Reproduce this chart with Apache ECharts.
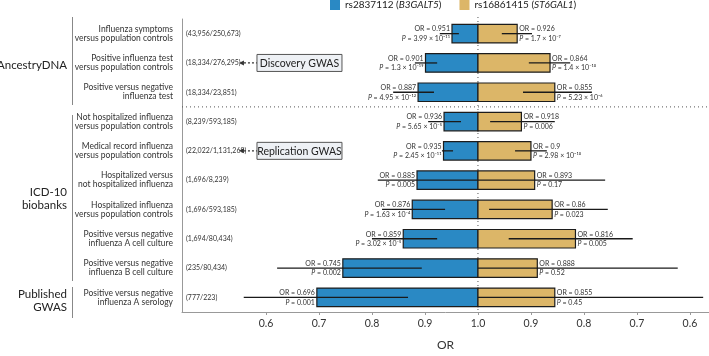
<!DOCTYPE html>
<html>
<head>
<meta charset="utf-8">
<script src="https://cdn.jsdelivr.net/npm/echarts@6/dist/echarts.min.js"></script>
<style>
html, body { margin: 0; padding: 0; background: #fff; }
#chart { width: 709px; height: 356px; }
</style>
</head>
<body>
<div id="chart"></div>
<script>
// rows, top to bottom
const rowLabels = [
    'Influenza symptoms\nversus population controls',
    'Positive influenza test\nversus population controls',
    'Positive versus negative\ninfluenza test',
    'Not hospitalized influenza\nversus population controls',
    'Medical record influenza\nversus population controls',
    'Hospitalized versus\nnot hospitalized influenza',
    'Hospitalized influenza\nversus population controls',
    'Positive versus negative\ninfluenza A cell culture',
    'Positive versus negative\ninfluenza B cell culture',
    'Positive versus negative\ninfluenza A serology'
]
const sampleSizes = ['(43,956/250,673)', '(18,334/276,295)', '(18,334/23,851)', '(8,239/593,185)',
    '(22,022/1,131,269)', '(1,696/8,239)', '(1,696/593,185)', '(1,694/80,434)', '(235/80,434)', '(777/223)']

// rs2837112 (B3GALT5)
const orLeft = [0.951, 0.901, 0.887, 0.936, 0.935, 0.885, 0.876, 0.859, 0.745, 0.696]
const ciLeftLow = [0.928, 0.881, 0.840, 0.906, 0.932, 0.811, 0.819, 0.800, 0.621, 0.558]
const ciLeftHigh = [0.964, 0.923, 0.917, 0.968, 0.953, 1.0, 0.938, 0.923, 0.894, 0.868]
const pLeft = ['3.99 × 10⁻¹¹', '1.3 × 10⁻¹⁹', '4.95 × 10⁻¹²', '5.65 × 10⁻⁵', '2.45 × 10⁻¹¹',
    '0.005', '1.63 × 10⁻⁴', '3.02 × 10⁻⁵', '0.002', '0.001']

// rs16861415 (ST6GAL1)
const orRight = [0.926, 0.864, 0.855, 0.918, 0.9, 0.893, 0.86, 0.816, 0.888, 0.855]
const ciRightLow = [0.898, 0.826, 0.785, 0.855, 0.870, 0.760, 0.755, 0.708, 0.623, 0.575]
const ciRightHigh = [0.955, 0.904, 0.915, 0.977, 0.930, 1.0, 0.979, 0.942, 1.0, 1.0]
const pRight = ['1.7 × 10⁻⁷', '1.4 × 10⁻¹⁰', '5.23 × 10⁻⁶', '0.006', '2.98 × 10⁻¹⁰',
    '0.17', '0.023', '0.005', '0.52', '0.45']

const xTickLabels = ['0.6', '0.7', '0.8', '0.9', '1.0', '0.9', '0.8', '0.7', '0.6']
const groupNames = ['AncestryDNA', 'ICD-10\nbiobanks', 'Published\nGWAS']
const annotRows = [1, 4]
const annotTexts = ['Discovery GWAS', 'Replication GWAS']
const dividerAfter = 2

const nameLeft = 'rs2837112 (B3GALT5)'
const nameRight = 'rs16861415 (ST6GAL1)'
const FONT = 'Lato, "Noto Sans", sans-serif'
const blue = '#2a89c4'
const gold = '#dcb668'
const ink = '#333'

// right half of the axis is mirrored: position = 2 - OR
const tickVals = xTickLabels.map((t, k) => k <= 4 ? +t : 2 - t)

function sideSeries(name, color, side, or, lo, hi, pv) {
    const pos = v => side < 0 ? v : 2 - v
    return {
        name: name,
        type: 'custom',
        z: 3,
        itemStyle: { color: color },
        encode: { x: 1, y: 0 },
        data: or.map((v, i) => [i, pos(v), pos(lo[i]), pos(hi[i])]),
        renderItem: function (params, api) {
            const i = params.dataIndex
            const base = api.coord([1, i])
            const end = api.coord([api.value(1), i])
            const a = api.coord([api.value(2), i])
            const b = api.coord([api.value(3), i])
            const h = api.size([0, 1])[1] * 0.63
            const y = base[1]
            const tx = end[0] + (side < 0 ? -2 : 2)
            const align = side < 0 ? 'right' : 'left'
            return {
                type: 'group',
                children: [
                    {
                        type: 'rect',
                        shape: { x: Math.min(base[0], end[0]), y: y - h / 2, width: Math.abs(end[0] - base[0]), height: h },
                        style: { fill: color, stroke: '#1c1c1c', lineWidth: 1.2 }
                    },
                    {
                        type: 'line',
                        shape: { x1: a[0], y1: y, x2: b[0], y2: y },
                        style: { stroke: '#1a1a1a', lineWidth: 1.3 }
                    },
                    {
                        type: 'text',
                        style: {
                            text: 'OR = ' + or[i], x: tx, y: y - 4.5, align: align, verticalAlign: 'middle',
                            fontSize: 7, fontFamily: FONT, fill: ink
                        }
                    },
                    {
                        type: 'text',
                        style: {
                            text: '{i|P} = ' + pv[i], x: tx, y: y + 5, align: align, verticalAlign: 'middle',
                            fontSize: 7, fontFamily: FONT, fill: ink,
                            rich: { i: { fontStyle: 'italic', fontSize: 7, fontFamily: FONT, fill: ink } }
                        }
                    }
                ]
            }
        }
    }
}

const guides = {
    type: 'custom',
    z: 1,
    silent: true,
    encode: { x: 0, y: 1 },
    data: [[1, 0]],
    renderItem: function (params, api) {
        const cs = params.coordSys
        const x = api.coord([1, 0])[0]
        const yd = (api.coord([1, dividerAfter])[1] + api.coord([1, dividerAfter + 1])[1]) / 2
        return {
            type: 'group',
            children: [
                { type: 'line', shape: { x1: x, y1: cs.y - 2, x2: x, y2: cs.y + cs.height }, style: { stroke: '#555', lineWidth: 1, lineDash: [1, 3] } },
                { type: 'line', shape: { x1: cs.x, y1: yd, x2: cs.x + cs.width, y2: yd }, style: { stroke: '#555', lineWidth: 1, lineDash: [1, 3] } }
            ]
        }
    }
}

const annotations = {
    type: 'custom',
    z: 4,
    silent: true,
    encode: { x: 0, y: 1 },
    data: annotRows.map(r => [0.583, r]),
    renderItem: function (params, api) {
        const p = api.coord([api.value(0), api.value(1)])
        const tip = api.coord([0.549, api.value(1)])[0]
        const w = 85, h = 17
        return {
            type: 'group',
            children: [
                { type: 'line', shape: { x1: tip + 5, y1: p[1], x2: p[0], y2: p[1] }, style: { stroke: '#333', lineWidth: 1.3, lineDash: [2, 2] } },
                { type: 'polygon', shape: { points: [[tip, p[1]], [tip + 5, p[1] - 2.5], [tip + 5, p[1] + 2.5]] }, style: { fill: '#333' } },
                { type: 'rect', shape: { x: p[0], y: p[1] - h / 2, width: w, height: h }, style: { fill: '#eef1f5', stroke: '#555', lineWidth: 1 } },
                {
                    type: 'text',
                    style: {
                        text: annotTexts[params.dataIndex], x: p[0] + w / 2, y: p[1] + 0.5, align: 'center', verticalAlign: 'middle',
                        fontSize: 10.5, fontFamily: FONT, fill: '#222'
                    }
                }
            ]
        }
    }
}

const groupY = [65, 199, 301]
const brackets = [[17, 105], [115, 281], [287, 318]]

const option = {
    animation: false,
    textStyle: { fontFamily: FONT },
    grid: { left: 182, right: 0, top: 19, bottom: 37 },
    legend: {
        data: [nameLeft, nameRight],
        left: 330,
        top: 0,
        padding: 0,
        icon: 'rect',
        itemWidth: 10,
        itemHeight: 10,
        itemGap: 18,
        textStyle: {
            color: '#222', fontSize: 10, fontFamily: FONT,
            rich: { i: { fontStyle: 'italic', fontSize: 10, color: '#222', fontFamily: FONT } }
        },
        formatter: n => n.replace(/\((.*)\)/, '({i|$1})')
    },
    xAxis: {
        type: 'value',
        min: 0.4415,
        max: 1.436,
        axisLine: { show: true, lineStyle: { color: '#999' } },
        axisTick: { show: true, length: 3, lineStyle: { color: '#999' }, customValues: tickVals },
        axisLabel: {
            customValues: tickVals, color: ink, fontSize: 10.5, margin: 6,
            formatter: v => xTickLabels[tickVals.findIndex(t => Math.abs(t - v) < 1e-6)]
        },
        splitLine: { show: false },
        name: 'OR',
        nameLocation: 'middle',
        nameGap: 27,
        nameTextStyle: { color: ink, fontSize: 12 }
    },
    yAxis: [
        {
            type: 'category',
            data: rowLabels,
            inverse: true,
            axisLine: { lineStyle: { color: '#999' } },
            axisTick: { alignWithLabel: true, length: 4, lineStyle: { color: '#999' } },
            axisLabel: { fontSize: 8.5, lineHeight: 9, color: ink, margin: 9, align: 'right' }
        },
        {
            type: 'category',
            data: sampleSizes,
            inverse: true,
            position: 'left',
            axisLine: { show: false },
            axisTick: { show: false },
            axisLabel: { inside: true, margin: 4, fontSize: 7, color: ink }
        }
    ],
    graphic: [
        ...groupNames.map((g, k) => ({
            type: 'text', x: 67, y: groupY[k],
            style: { text: g, align: 'right', verticalAlign: 'middle', fontSize: 11.5, lineHeight: 13, fill: '#222', fontFamily: FONT }
        })),
        ...brackets.map(b => ({
            type: 'line',
            shape: { x1: 72.5, y1: b[0], x2: 72.5, y2: b[1] },
            style: { stroke: '#888', lineWidth: 1 }
        }))
    ],
    series: [
        guides,
        sideSeries(nameLeft, blue, -1, orLeft, ciLeftLow, ciLeftHigh, pLeft),
        sideSeries(nameRight, gold, 1, orRight, ciRightLow, ciRightHigh, pRight),
        annotations
    ]
}

const chart = echarts.init(document.getElementById('chart'))
chart.setOption(option)
</script>
</body>
</html>
